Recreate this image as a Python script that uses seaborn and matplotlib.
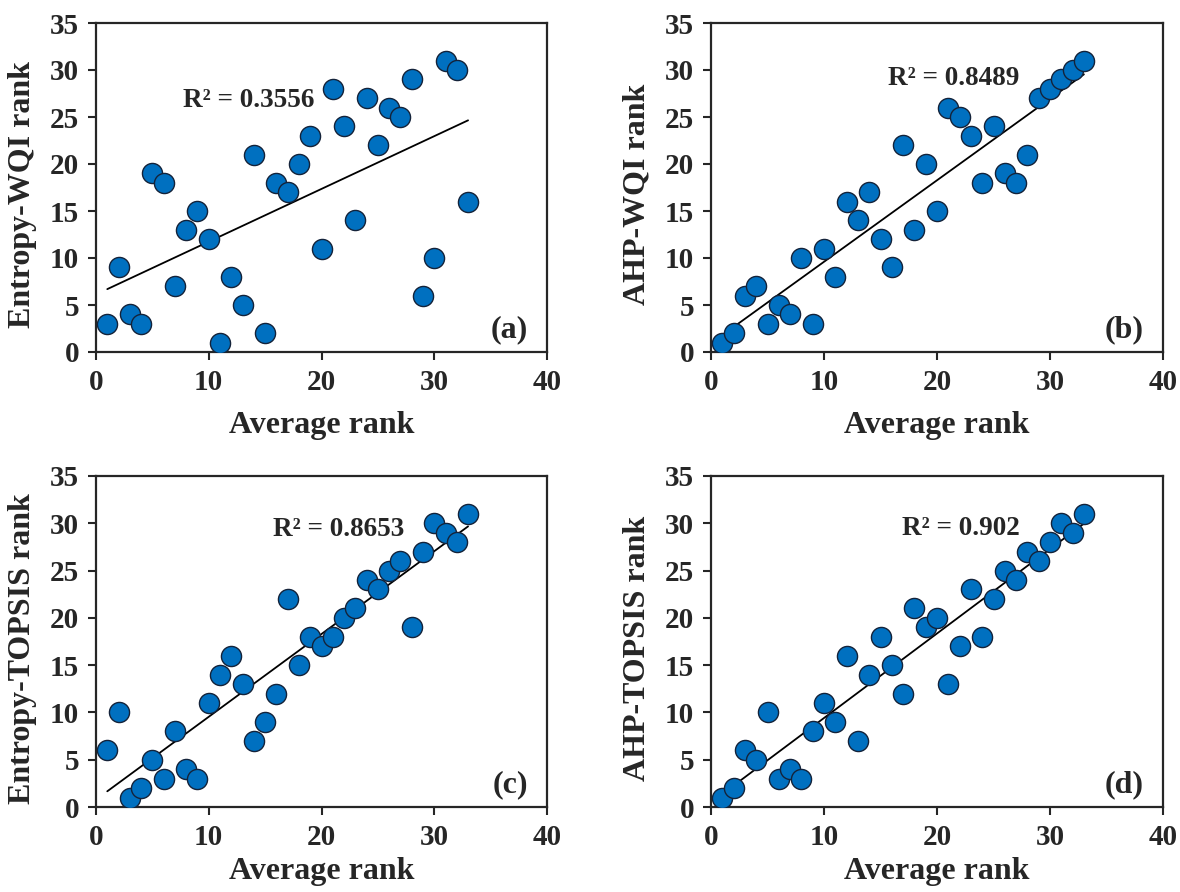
import numpy as np
import pandas as pd
import matplotlib
matplotlib.use("Agg")
import matplotlib.pyplot as plt
import seaborn as sns

# ---- data ----
average_rank = list(range(1, 34))
entropy_wqi = [3, 9, 4, 3, 19, 18, 7, 13, 15, 12, 1, 8, 5, 21, 2, 18, 17, 20, 23, 11,
               28, 24, 14, 27, 22, 26, 25, 29, 6, 10, 31, 30, 16]
ahp_wqi = [1, 2, 6, 7, 3, 5, 4, 10, 3, 11, 8, 16, 14, 17, 12, 9, 22, 13, 20, 15,
           26, 25, 23, 18, 24, 19, 18, 21, 27, 28, 29, 30, 31]
entropy_topsis = [6, 10, 1, 2, 5, 3, 8, 4, 3, 11, 14, 16, 13, 7, 9, 12, 22, 15, 18, 17,
                  18, 20, 21, 24, 23, 25, 26, 19, 27, 30, 29, 28, 31]
ahp_topsis = [1, 2, 6, 5, 10, 3, 4, 3, 8, 11, 9, 16, 7, 14, 18, 15, 12, 21, 19, 20,
              13, 17, 23, 18, 22, 25, 24, 27, 26, 28, 30, 29, 31]

ylabels = ["Entropy-WQI rank", "AHP-WQI rank", "Entropy-TOPSIS rank", "AHP-TOPSIS rank"]
r2_texts = ["R² = 0.3556", "R² = 0.8489", "R² = 0.8653", "R² = 0.902"]
panel_tags = ["(a)", "(b)", "(c)", "(d)"]
r2_pos = [(7.7, 26.8), (15.7, 29.1), (15.7, 29.3), (16.9, 29.5)]
xticks = [0, 10, 20, 30, 40]
yticks = [0, 5, 10, 15, 20, 25, 30, 35]

series = [entropy_wqi, ahp_wqi, entropy_topsis, ahp_topsis]

sns.set_style("ticks")
plt.rcParams['font.family'] = ['Liberation Serif', 'DejaVu Serif']
plt.rcParams['font.weight'] = 'bold'

W, H = 1180, 892
fig = plt.figure(figsize=(W / 100, H / 100), dpi=100)

boxes = [
    (96, 23, 547, 352),
    (711, 23, 1163, 352),
    (96, 476, 547, 807),
    (711, 476, 1163, 807),
]
xlabel_y = [-0.178, -0.178, -0.150, -0.150]

for i, (l, t, r, b) in enumerate(boxes):
    ax = fig.add_axes([l / W, 1 - b / H, (r - l) / W, (b - t) / H])
    df = pd.DataFrame({"x": average_rank, "y": series[i]})
    sns.regplot(data=df, x="x", y="y", scatter=False, ci=None, ax=ax,
                line_kws=dict(color="black", lw=1.3))
    sns.scatterplot(data=df, x="x", y="y", ax=ax, s=210, color="#0070C0",
                    edgecolor="#14233a", linewidth=1.0, zorder=3)
    ax.set_xlim(0, 40)
    ax.set_ylim(0, 35)
    ax.set_xticks(xticks)
    ax.set_yticks(yticks)
    ax.tick_params(direction="out", length=6, width=1.5, labelsize=21, pad=6)
    for lab in ax.get_xticklabels() + ax.get_yticklabels():
        lab.set_fontweight("bold")
    for sp in ax.spines.values():
        sp.set_linewidth(1.6)
        sp.set_visible(True)
    ax.set_xlabel("Average rank", fontsize=23, fontweight="bold")
    ax.set_ylabel(ylabels[i], fontsize=23, fontweight="bold")
    ax.yaxis.set_label_coords(-0.131, 0.48)
    ax.xaxis.set_label_coords(0.5, xlabel_y[i])
    ax.text(r2_pos[i][0], r2_pos[i][1], r2_texts[i], fontsize=19.5,
            fontweight="bold", ha="left", va="center")
    ax.text(0.958, 0.067, panel_tags[i], transform=ax.transAxes, fontsize=23,
            fontweight="bold", ha="right", va="center")

fig.savefig("out.png", dpi=100)
